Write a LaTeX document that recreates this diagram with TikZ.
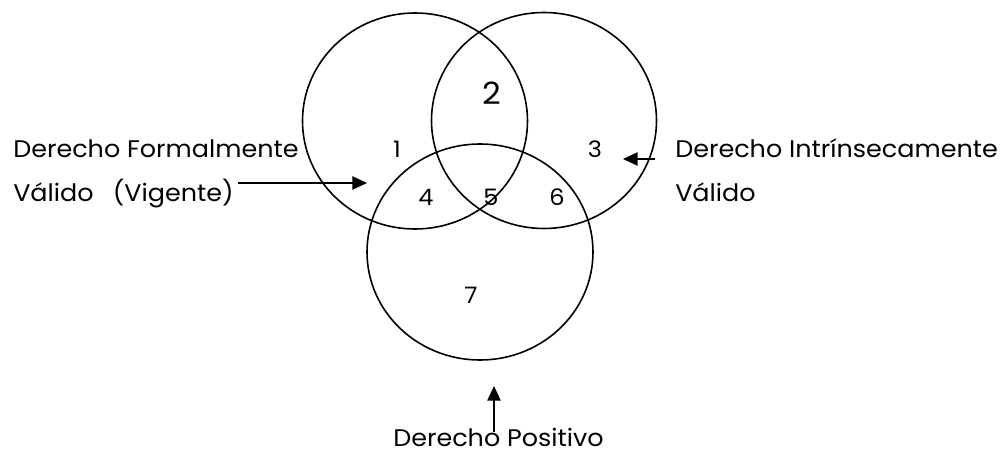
\documentclass[tikz,border=0pt]{standalone}
\usepackage{fontspec}
\setmainfont{Poppins}[FakeStretch=1.06]
\usetikzlibrary{arrows.meta,shapes.geometric}
\begin{document}
\begin{tikzpicture}[x=0.75pt,y=-0.75pt,
  setshape/.style={draw, ellipse, line width=1.2pt, inner sep=0pt,
    minimum width=168.75pt, minimum height=162pt},
  lbl/.style={anchor=base west, inner sep=0pt, font=\fontsize{18}{21}\selectfont},
  num/.style={inner sep=0pt, font=\fontsize{17}{20}\selectfont},
  pointer/.style={-{Triangle[length=11pt,width=10pt]}, line width=1.1pt}]
\useasboundingbox (0,0) rectangle (1006,453);

% the three sets
\node[setshape] (formal) at (415,121) {};
\node[setshape] (intrinseco) at (544,120.5) {};
\node[setshape, minimum width=169.5pt] (positivo) at (480,252) {};

% region numbers
\node[num] (r1) at (397,149) {1};
\node[num, font=\fontsize{23}{26}\selectfont] (r2) at (492,93) {2};
\node[num] (r3) at (595,149) {3};
\node[num] (r4) at (426,197) {4};
\node[num] (r5) at (491,197) {5};
\node[num] (r6) at (557,197) {6};
\node[num] (r7) at (471,295) {7};

% labels
\node[lbl] (fa) at (13,157) {Derecho Formalmente};
\node[lbl] (fb) at (13,201) {Válido\hspace{0.8em}(Vigente)};
\node[lbl] (ia) at (675,157) {Derecho Intrínsecamente};
\node[lbl] (ib) at (675,201) {Válido};
\node[lbl] (pa) at (393,446) {Derecho Positivo};

% pointers
\coordinate (fs) at (238,183);
\coordinate (ft) at (367,183);
\coordinate (is) at (655,159);
\coordinate (it) at (623,159);
\coordinate (ps) at (494,432);
\coordinate (pt) at (494,386);
\draw[pointer] (fs) -- (ft);
\draw[pointer] (is) -- (it);
\draw[pointer] (ps) -- (pt);
\end{tikzpicture}
\end{document}
